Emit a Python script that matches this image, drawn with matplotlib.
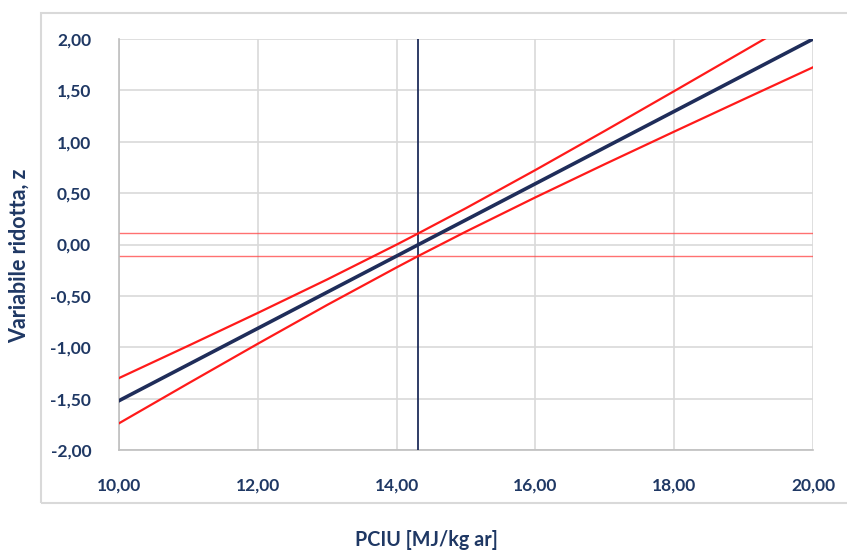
import matplotlib
matplotlib.use("Agg")
import matplotlib.pyplot as plt
from matplotlib.ticker import FuncFormatter, MultipleLocator
from matplotlib.patches import Rectangle

# valori
pciu = [10.0, 11.0, 12.0, 13.0, 14.0, 14.3, 15.0, 16.0, 17.0, 18.0, 19.0, 20.0]
z_fit = [-1.52, -1.168, -0.816, -0.464, -0.112, -0.006, 0.24, 0.592, 0.944, 1.296, 1.648, 2.00]
z_upper = [-1.30, -0.985, -0.666, -0.34, -0.001, 0.104, 0.354, 0.725, 1.106, 1.493, 1.883, 2.275]
z_lower = [-1.74, -1.351, -0.966, -0.588, -0.223, -0.116, 0.126, 0.459, 0.782, 1.099, 1.413, 1.725]
z_limits = [0.11, -0.11]
pciu_zero = 14.31

navy = "#1F2D5A"
txt = "#1F3864"

plt.rcParams['font.family'] = ['Lato', 'DejaVu Sans']

fig = plt.figure(figsize=(8.47, 5.51), dpi=100)
ax = fig.add_axes([0.1405, 0.1833, 0.8194, 0.7459])

# cornice del grafico
fig.patches.append(Rectangle((41 / 847, 1 - 503 / 551), 820 / 847, 490 / 551,
                             transform=fig.transFigure, fill=False,
                             edgecolor="#D9D9D9", lw=1.5, clip_on=False))

for zl in z_limits:
    ax.axhline(zl, color="#FF4D4D", lw=1.0, alpha=0.8, zorder=2)
ax.axvline(pciu_zero, color=navy, lw=1.3, zorder=3)

ax.plot(pciu, z_upper, color="#FF1A1A", lw=1.6, zorder=4)
ax.plot(pciu, z_lower, color="#FF1A1A", lw=1.6, zorder=4)
ax.plot(pciu, z_fit, color=navy, lw=2.6, zorder=5)

ax.set_xlim(10, 20)
ax.set_ylim(-2, 2)
ax.xaxis.set_major_locator(MultipleLocator(2))
ax.yaxis.set_major_locator(MultipleLocator(0.5))
fmt = FuncFormatter(lambda v, p: f"{v:.2f}".replace(".", ","))
ax.xaxis.set_major_formatter(fmt)
ax.yaxis.set_major_formatter(fmt)

ax.grid(True, color="#D9D9D9", lw=1.2, zorder=0)
ax.set_axisbelow(True)
for s in ["top", "right"]:
    ax.spines[s].set_visible(False)
for s in ["left", "bottom"]:
    ax.spines[s].set_color("#BFBFBF")
    ax.spines[s].set_linewidth(1.2)

ax.tick_params(length=0, labelsize=12.5, labelcolor=txt)
ax.tick_params(axis="y", pad=20)
ax.tick_params(axis="x", pad=20)
for lab in ax.get_xticklabels() + ax.get_yticklabels():
    lab.set_fontweight("bold")

fig.text(426 / 847, 1 - 540 / 551, "PCIU [MJ/kg ar]", ha="center", va="center",
         fontsize=14.2, fontweight="bold", color=txt)
fig.text(19 / 847, 1 - 256 / 551, "Variabile ridotta, z", ha="center", va="center",
         rotation=90, fontsize=15.5, fontweight="bold", color=txt)

fig.savefig("out.png", dpi=100)
